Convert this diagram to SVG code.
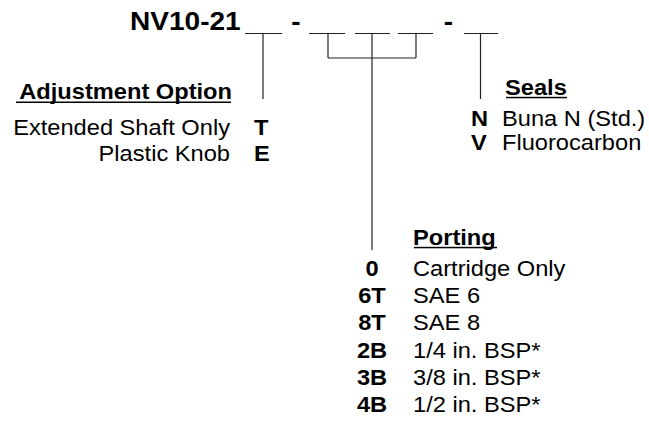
<svg xmlns="http://www.w3.org/2000/svg" width="649" height="431" viewBox="0 0 649 431">
<style>
text{font-family:"Liberation Sans",Arial,Helvetica,sans-serif;fill:#000}
.t{font-size:25.5px;font-weight:bold}
.h{font-size:21.5px;font-weight:bold}
.b{font-size:21.5px;font-weight:bold}
.r{font-size:21.5px}
.e{text-anchor:end}
.m{text-anchor:middle}
.ln{stroke:#222;stroke-width:1.2;fill:none}
.ul{fill:#000}
</style>
<rect width="649" height="431" fill="#fff"/>
<g id="title">
<text class="t" transform="translate(130,29.5) scale(1.1,1)">NV10-21</text>
<text class="t m" transform="translate(296,29.5) scale(1.1,1)">-</text>
<text class="t m" transform="translate(448.5,29.5) scale(1.1,1)">-</text>
<g class="ln">
<line x1="245" y1="33.5" x2="282" y2="33.5"/>
<line x1="309" y1="33.5" x2="345" y2="33.5"/>
<line x1="355" y1="33.5" x2="390" y2="33.5"/>
<line x1="398" y1="33.5" x2="433" y2="33.5"/>
<line x1="464" y1="33.5" x2="498" y2="33.5"/>
</g>
</g>
<g id="connectors" class="ln">
<line x1="263" y1="33.5" x2="263" y2="99"/>
<line x1="328" y1="33.5" x2="328" y2="58"/>
<line x1="416" y1="33.5" x2="416" y2="58"/>
<line x1="328" y1="58" x2="416" y2="58"/>
<line x1="372" y1="33.5" x2="372" y2="250"/>
<line x1="480.5" y1="33.5" x2="480.5" y2="99"/>
</g>
<g id="adjustment">
<text class="h e" transform="translate(232,98.5) scale(1.1,1)">Adjustment Option</text>
<rect class="ul" x="16" y="101.5" width="215" height="1.5"/>
<text class="r e" transform="translate(230,135) scale(1.1,1)">Extended Shaft Only</text>
<text class="b" transform="translate(254,135) scale(1.1,1)">T</text>
<text class="r e" transform="translate(230,161) scale(1.1,1)">Plastic Knob</text>
<text class="b" transform="translate(254,161) scale(1.1,1)">E</text>
</g>
<g id="seals">
<text class="h" transform="translate(505,94.5) scale(1.1,1)">Seals</text>
<rect class="ul" x="506" y="96.8" width="61" height="1.5"/>
<text class="b" transform="translate(471,126) scale(1.1,1)">N</text>
<text class="r" transform="translate(502,126) scale(1.1,1)">Buna N (Std.)</text>
<text class="b" transform="translate(471,150) scale(1.1,1)">V</text>
<text class="r" transform="translate(502,150) scale(1.1,1)">Fluorocarbon</text>
</g>
<g id="porting">
<text class="h" transform="translate(413,244.5) scale(1.1,1)">Porting</text>
<rect class="ul" x="414" y="246.8" width="83" height="1.5"/>
<text class="b m" transform="translate(372,276) scale(1.1,1)">0</text>
<text class="r" transform="translate(413,276) scale(1.1,1)">Cartridge Only</text>
<text class="b m" transform="translate(372,303.2) scale(1.1,1)">6T</text>
<text class="r" transform="translate(413,303.2) scale(1.1,1)">SAE 6</text>
<text class="b m" transform="translate(372,330.4) scale(1.1,1)">8T</text>
<text class="r" transform="translate(413,330.4) scale(1.1,1)">SAE 8</text>
<text class="b m" transform="translate(372,357.6) scale(1.1,1)">2B</text>
<text class="r" transform="translate(413,357.6) scale(1.1,1)">1/4 in. BSP*</text>
<text class="b m" transform="translate(372,384.8) scale(1.1,1)">3B</text>
<text class="r" transform="translate(413,384.8) scale(1.1,1)">3/8 in. BSP*</text>
<text class="b m" transform="translate(372,412) scale(1.1,1)">4B</text>
<text class="r" transform="translate(413,412) scale(1.1,1)">1/2 in. BSP*</text>
</g>
</svg>
